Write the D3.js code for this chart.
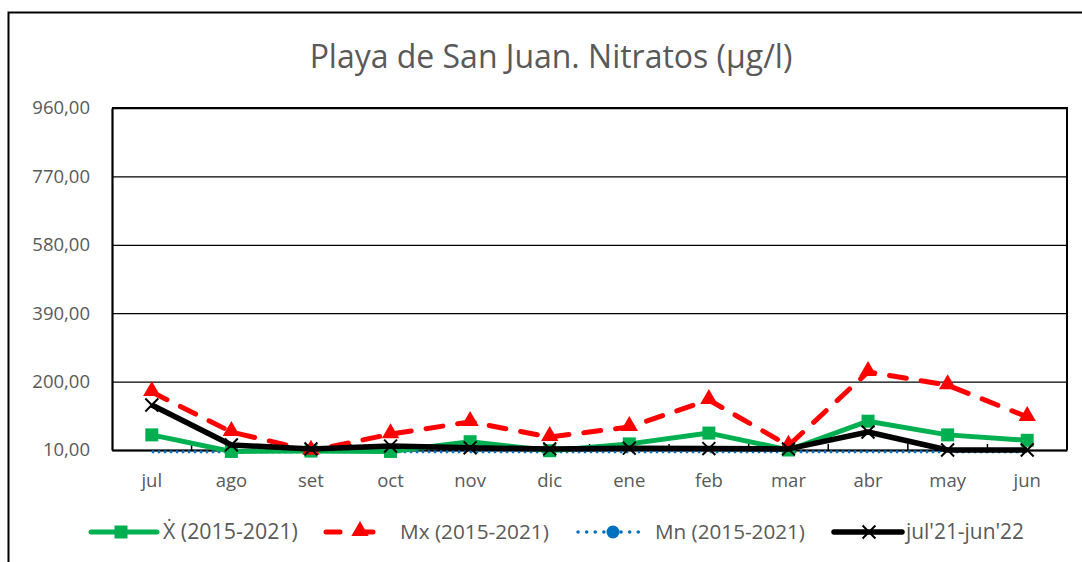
<!DOCTYPE html>
<html><head><meta charset="utf-8">
<script src="https://cdn.jsdelivr.net/npm/d3@7"></script>
<style>
html,body{margin:0;padding:0;background:#fff;}
svg{display:block;font-family:"Open Sans","Noto Sans",sans-serif;}
</style></head>
<body><svg id="c" width="1082" height="562"></svg>
<script>
const months = ["jul","ago","set","oct","nov","dic","ene","feb","mar","abr","may","jun"];
const meanVals = [52, 6, 7, 6, 33, 8, 27, 57, 10, 90, 52, 37];
const maxVals  = [171, 60, 8, 54, 88, 46, 74, 149, 22, 227, 190, 102];
const minVals  = [5, 5, 5, 5, 5, 5, 5, 5, 5, 5, 5, 5];
const curVals  = [135, 24, 13, 21, 16, 13, 15, 14, 13, 60, 10, 10];
const yTicks = [10, 200, 390, 580, 770, 960];
const seriesNames = ["\u1E8A (2015-2021)", "Mx (2015-2021)", "Mn (2015-2021)", "jul'21-jun'22"];
const titleText = "Playa de San Juan. Nitratos (\u00B5g/l)";

const svg = d3.select("#c");
const L = 112, R = 1067, T = 108, B = 450;
const x = d3.scaleBand().domain(months).range([L, R]).padding(0);
const y = d3.scaleLinear().domain([10, 960]).range([B, T]);
const cx = m => x(m) + x.bandwidth()/2;
const txt = "#595959";

// outer border
svg.append("rect").attr("x", 8.5).attr("y", 12.5).attr("width", 1100).attr("height", 600)
  .attr("fill", "none").attr("stroke", "#000").attr("stroke-width", 2);

function fit(sel, w) {
  const n = sel.node(); const cur = n.getComputedTextLength();
  const fs = parseFloat(sel.attr("font-size"));
  sel.attr("font-size", fs * w / cur);
}

// title
const t = svg.append("text").attr("x", 551).attr("y", 68).attr("text-anchor", "middle")
  .attr("font-size", 28).attr("fill", txt).text(titleText);
fit(t, 483);

// gridlines
svg.append("g").attr("transform", `translate(${L},0)`)
  .call(d3.axisLeft(y).tickValues(yTicks).tickSize(-(R - L)).tickFormat(""))
  .call(g => g.select(".domain").remove())
  .call(g => g.selectAll("line").attr("stroke", "#000").attr("stroke-width", 1.3));

// plot border (top + right)
svg.append("path").attr("d", `M${L},${T}H${R}V${B}`).attr("fill", "none")
  .attr("stroke", "#000").attr("stroke-width", 2);

// y axis labels
svg.append("g").attr("transform", `translate(${L},0)`)
  .call(d3.axisLeft(y).tickValues(yTicks).tickSize(0).tickPadding(22)
    .tickFormat(d => d3.format(".2f")(d).replace(".", ",")))
  .call(g => g.select(".domain").attr("stroke", "#000").attr("stroke-width", 2.2))
  .call(g => g.selectAll("text").attr("font-size", 18.5).attr("fill", txt)
    .attr("font-family", "'Open Sans','Noto Sans',sans-serif"));

// x axis
svg.append("g").attr("transform", `translate(0,${B})`)
  .call(d3.axisBottom(x).tickSize(0).tickPadding(24))
  .call(g => g.select(".domain").attr("stroke", "#000").attr("stroke-width", 2.2))
  .call(g => g.selectAll("text").attr("font-size", 18.5).attr("fill", txt)
    .attr("font-family", "'Open Sans','Noto Sans',sans-serif"));

// boundary ticks (inward)
svg.append("g").selectAll("line").data(months.slice(1)).join("line")
  .attr("x1", d => x(d)).attr("x2", d => x(d)).attr("y1", B).attr("y2", B - 6)
  .attr("stroke", "#000").attr("stroke-width", 1.5);

const line = d3.line().x((d, i) => cx(months[i])).y(d => y(d));

// Mn (blue dotted)
svg.append("path").datum(minVals).attr("d", line).attr("fill", "none")
  .attr("stroke", "#0070C0").attr("stroke-width", 3).attr("stroke-dasharray", "2.5,3.5");

// mean (green)
svg.append("path").datum(meanVals).attr("d", line).attr("fill", "none")
  .attr("stroke", "#00B050").attr("stroke-width", 5).attr("stroke-linejoin", "round");
svg.append("g").selectAll("rect").data(meanVals).join("rect")
  .attr("x", (d, i) => cx(months[i]) - 6.5).attr("y", d => y(d) - 6.5)
  .attr("width", 13).attr("height", 13).attr("fill", "#00B050");

// max (red dashed)
svg.append("path").datum(maxVals).attr("d", line).attr("fill", "none")
  .attr("stroke", "#FF0000").attr("stroke-width", 5).attr("stroke-dasharray", "17,15")
  .attr("stroke-linecap", "round");
const tri = d3.symbol().type(d3.symbolTriangle).size(130);
svg.append("g").selectAll("path").data(maxVals).join("path")
  .attr("transform", (d, i) => `translate(${cx(months[i])},${y(d) - 1})`)
  .attr("d", tri).attr("fill", "#FF0000");

// current (black)
svg.append("path").datum(curVals).attr("d", line).attr("fill", "none")
  .attr("stroke", "#000").attr("stroke-width", 5.5).attr("stroke-linejoin", "round");
const xs = d3.symbol().type(d3.symbolX).size(110);
svg.append("g").selectAll("path").data(curVals).join("path")
  .attr("transform", (d, i) => `translate(${cx(months[i])},${y(d)})`)
  .attr("d", xs).attr("fill", "none").attr("stroke", "#000").attr("stroke-width", 2);

// legend
const ly = 532;
const leg = svg.append("g");
const items = [
  {x1: 91, x2: 157, tx: 163, tw: 135},
  {x1: 326, x2: 392, tx: 400, tw: 149},
  {x1: 578, x2: 644, tx: 655, tw: 150},
  {x1: 834, x2: 902, tx: 906, tw: 118}
];
// green
leg.append("line").attr("x1", items[0].x1).attr("x2", items[0].x2).attr("y1", ly).attr("y2", ly)
  .attr("stroke", "#00B050").attr("stroke-width", 5).attr("stroke-linecap", "round");
leg.append("rect").attr("x", 121 - 6.5).attr("y", ly - 6.5).attr("width", 13).attr("height", 13).attr("fill", "#00B050");
// red
leg.append("line").attr("x1", items[1].x1).attr("x2", items[1].x2).attr("y1", ly).attr("y2", ly)
  .attr("stroke", "#FF0000").attr("stroke-width", 5).attr("stroke-dasharray", "14,19")
  .attr("stroke-linecap", "round");
leg.append("path").attr("transform", `translate(360,${ly - 1})`).attr("d", tri).attr("fill", "#FF0000");
// blue
leg.append("line").attr("x1", items[2].x1).attr("x2", items[2].x2).attr("y1", ly).attr("y2", ly)
  .attr("stroke", "#0070C0").attr("stroke-width", 3.5).attr("stroke-dasharray", "0.1,8.5")
  .attr("stroke-linecap", "round");
leg.append("circle").attr("cx", 613).attr("cy", ly).attr("r", 6.5).attr("fill", "#0070C0");
// black
leg.append("line").attr("x1", items[3].x1).attr("x2", items[3].x2).attr("y1", ly).attr("y2", ly)
  .attr("stroke", "#000").attr("stroke-width", 5.5).attr("stroke-linecap", "round");
leg.append("path").attr("transform", `translate(869,${ly})`).attr("d", xs)
  .attr("fill", "none").attr("stroke", "#000").attr("stroke-width", 2);

items.forEach((it, i) => {
  const tt = leg.append("text").attr("x", it.tx).attr("y", ly + 6.5).attr("font-size", 17.5)
    .attr("fill", txt).text(seriesNames[i]);
  fit(tt, it.tw);
});
</script></body></html>
